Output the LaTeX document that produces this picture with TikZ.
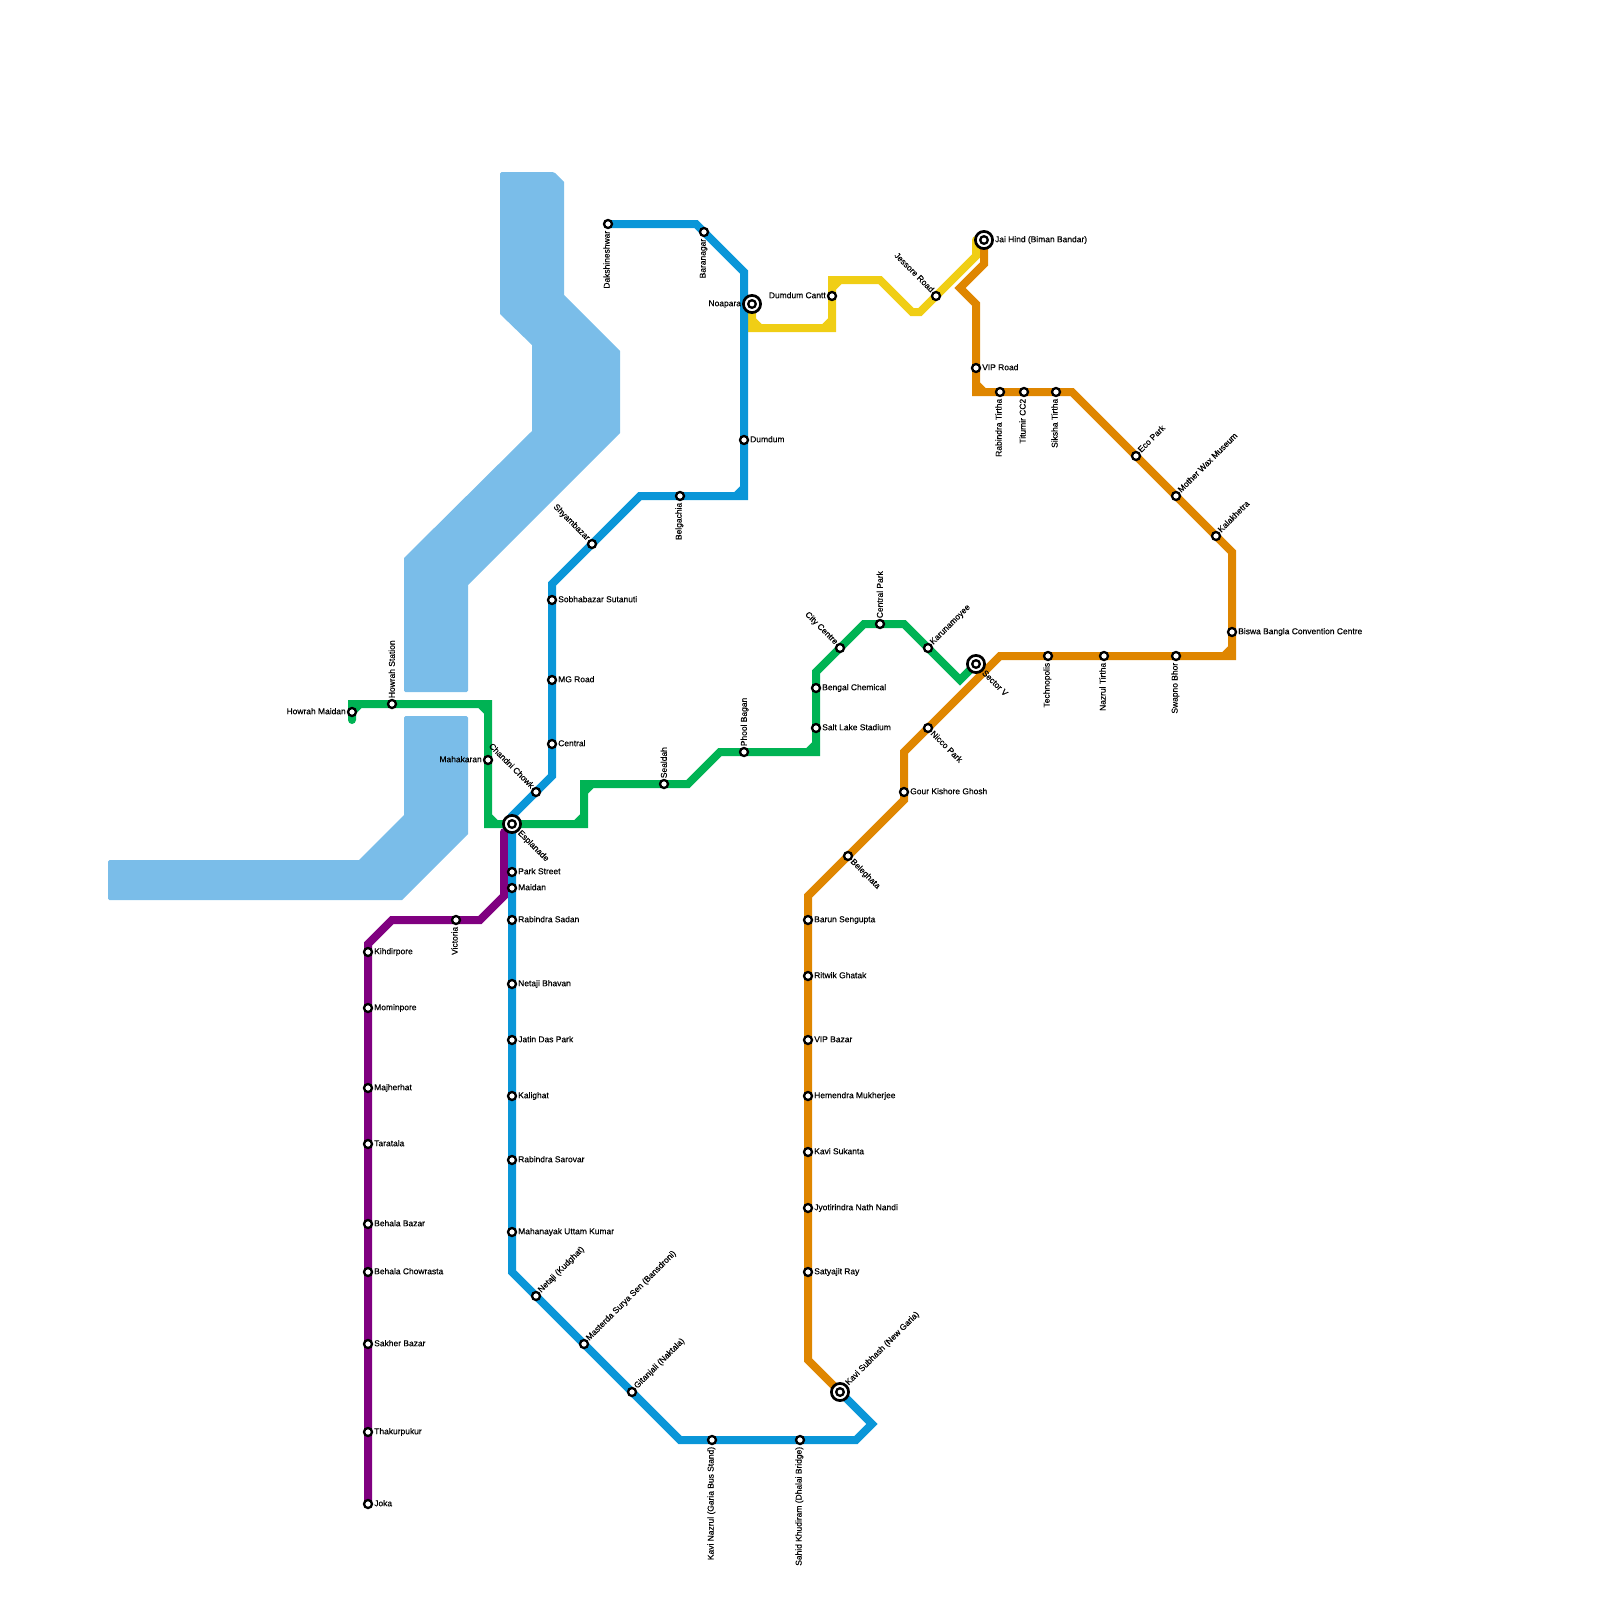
\documentclass[tikz,border=0pt]{standalone}
\usepackage{fontspec}
\newfontfamily\stnfont{Liberation Sans}[FakeBold=0.35]
\definecolor{waterc}{HTML}{7ABDE9}
\definecolor{bluec}{HTML}{0A96D8}
\definecolor{greenc}{HTML}{00B354}
\definecolor{orangec}{HTML}{DF8600}
\definecolor{yellowc}{HTML}{F0CE15}
\definecolor{purplec}{HTML}{800080}
\pgfdeclarelayer{lines}
\pgfsetlayers{lines,main}
\tikzset{
  stn/.style={circle,draw=black,fill=white,line width=2.3pt,inner sep=0pt,minimum size=8pt},
  hub/.style={circle,draw=black,fill=white,line width=2.7pt,inner sep=0pt,minimum size=17.2pt,label distance=2.1pt,
    path picture={\draw[black,line width=2.3pt] (path picture bounding box.center) circle (3.8pt);}},
  hubd/.style={hub,label distance=4.1pt},
  every label/.style={font=\stnfont\fontsize{8.45}{9}\selectfont,inner sep=0pt,text height=6pt,text depth=1.6pt,text=black},
  labup/.style={xshift=1.5pt,yshift=0.5pt,rotate=90,anchor=west},
  labdn/.style={xshift=-1.5pt,yshift=-1.5pt,rotate=90,anchor=east},
  labne/.style={rotate=45,anchor=west},
  labse/.style={rotate=-45,anchor=west},
  labnw/.style={rotate=-45,anchor=east},
  metro/.style={line width=8pt,line cap=round,line join=miter,miter limit=10}
}
\begin{document}
\begin{tikzpicture}[x=1pt,y=-1pt,label distance=0.9pt]
\useasboundingbox (0,0) rectangle (1600,1600);

\node[hubd,label={[labse]-45:Esplanade}] at (512,824) (esplanade) {};
\node[hub,label={left:Noapara}] at (752,304) (noapara) {};
\node[hub,label={right:Jai Hind (Biman Bandar)}] at (984,240) (jaihind) {};
\node[hubd,label={[labse]-45:Sector V}] at (976,664) (sectorv) {};
\node[hubd,label={[labne]45:Kavi Subhash (New Garia)}] at (840,1392) (kavisubhash) {};

\node[stn,label={right:Kihdirpore}] at (368,952) (kihdirpore) {};
\node[stn,label={right:Mominpore}] at (368,1008) (mominpore) {};
\node[stn,label={right:Majherhat}] at (368,1088) (majherhat) {};
\node[stn,label={right:Taratala}] at (368,1144) (taratala) {};
\node[stn,label={right:Behala Bazar}] at (368,1224) (behalabazar) {};
\node[stn,label={right:Behala Chowrasta}] at (368,1272) (behalachow) {};
\node[stn,label={right:Sakher Bazar}] at (368,1344) (sakher) {};
\node[stn,label={right:Thakurpukur}] at (368,1432) (thakurpukur) {};
\node[stn,label={right:Joka}] at (368,1504) (joka) {};
\node[stn,label={[labdn]below:Victoria}] at (456,920) (victoria) {};

\node[stn,label={[labdn]below:Dakshineshwar}] at (608,224) (dakshineshwar) {};
\node[stn,label={[labdn]below:Baranagar}] at (704,232) (baranagar) {};
\node[stn,label={right:Dumdum}] at (744,440) (dumdum) {};
\node[stn,label={[labdn]below:Belgachia}] at (680,496) (belgachia) {};
\node[stn,label={[labnw]135:Shyambazar}] at (592,544) (shyambazar) {};
\node[stn,label={right:Sobhabazar Sutanuti}] at (552,600) (sobhabazar) {};
\node[stn,label={right:MG Road}] at (552,680) (mgroad) {};
\node[stn,label={right:Central}] at (552,744) (central) {};
\node[stn,label={[labnw]135:Chandni Chowk}] at (536,792) (chandni) {};
\node[stn,label={right:Park Street}] at (512,872) (parkstreet) {};
\node[stn,label={right:Maidan}] at (512,888) (maidan) {};
\node[stn,label={right:Rabindra Sadan}] at (512,920) (rabindrasadan) {};
\node[stn,label={right:Netaji Bhavan}] at (512,984) (netajibhavan) {};
\node[stn,label={right:Jatin Das Park}] at (512,1040) (jatindas) {};
\node[stn,label={right:Kalighat}] at (512,1096) (kalighat) {};
\node[stn,label={right:Rabindra Sarovar}] at (512,1160) (sarovar) {};
\node[stn,label={right:Mahanayak Uttam Kumar}] at (512,1232) (mahanayak) {};
\node[stn,label={[labne]45:Netaji (Kudghat)}] at (536,1296) (netaji) {};
\node[stn,label={[labne]45:Masterda Surya Sen (Bansdroni)}] at (584,1344) (masterda) {};
\node[stn,label={[labne]45:Gitanjali (Naktala)}] at (632,1392) (gitanjali) {};
\node[stn,label={[labdn]below:Kavi Nazrul (Garia Bus Stand)}] at (712,1440) (kavinazrul) {};
\node[stn,label={[labdn]below:Sahid Khudiram (Dhalai Bridge)}] at (800,1440) (khudiram) {};

\node[stn,label={left:Howrah Maidan}] at (352,712) (howrahmaidan) {};
\node[stn,label={[labup]above:Howrah Station}] at (392,704) (howrah) {};
\node[stn,label={left:Mahakaran}] at (488,760) (mahakaran) {};
\node[stn,label={[labup]above:Sealdah}] at (664,784) (sealdah) {};
\node[stn,label={[labup]above:Phool Bagan}] at (744,752) (phoolbagan) {};
\node[stn,label={right:Salt Lake Stadium}] at (816,728) (saltlake) {};
\node[stn,label={right:Bengal Chemical}] at (816,688) (bengal) {};
\node[stn,label={[labnw]135:City Centre}] at (840,648) (citycentre) {};
\node[stn,label={[labup]above:Central Park}] at (880,624) (centralpark) {};
\node[stn,label={[labne]45:Karunamoyee}] at (928,648) (karunamoyee) {};

\node[stn,label={left:Dumdum Cantt}] at (832,296) (dumdumcantt) {};
\node[stn,label={[labnw]135:Jessore Road}] at (936,296) (jessore) {};

\node[stn,label={right:Satyajit Ray}] at (808,1272) (satyajit) {};
\node[stn,label={right:Jyotirindra Nath Nandi}] at (808,1208) (jyotirindra) {};
\node[stn,label={right:Kavi Sukanta}] at (808,1152) (sukanta) {};
\node[stn,label={right:Hemendra Mukherjee}] at (808,1096) (hemendra) {};
\node[stn,label={right:VIP Bazar}] at (808,1040) (vipbazar) {};
\node[stn,label={right:Ritwik Ghatak}] at (808,976) (ritwik) {};
\node[stn,label={right:Barun Sengupta}] at (808,920) (barun) {};
\node[stn,label={[labse]-45:Beleghata}] at (848,856) (beleghata) {};
\node[stn,label={right:Gour Kishore Ghosh}] at (904,792) (gour) {};
\node[stn,label={[labse]-45:Nicco Park}] at (928,728) (nicco) {};
\node[stn,label={[labdn]below:Technopolis}] at (1048,656) (technopolis) {};
\node[stn,label={[labdn]below:Nazrul Tirtha}] at (1104,656) (nazrul) {};
\node[stn,label={[labdn]below:Swapno Bhor}] at (1176,656) (swapno) {};
\node[stn,label={right:Biswa Bangla Convention Centre}] at (1232,632) (biswa) {};
\node[stn,label={[labne]45:Kalakhetra}] at (1216,536) (kalakhetra) {};
\node[stn,label={[labne]45:Mother Wax Museum}] at (1176,496) (motherwax) {};
\node[stn,label={[labne]45:Eco Park}] at (1136,456) (ecopark) {};
\node[stn,label={[labdn]below:Siksha Tirtha}] at (1056,392) (siksha) {};
\node[stn,label={[labdn]below:Titumir CC2}] at (1024,392) (titumir) {};
\node[stn,label={[labdn]below:Rabindra Tirtha}] at (1000,392) (rabindra) {};
\node[stn,label={right:VIP Road}] at (976,368) (viproad) {};

\coordinate (p1) at (504,832);
\coordinate (p2) at (504,896);
\coordinate (p3) at (480,920);
\coordinate (p4) at (392,920);
\coordinate (p5) at (368,944);

\coordinate (b1) at (696,224);
\coordinate (b2) at (744,272);
\coordinate (b3) at (744,496);
\coordinate (b4) at (640,496);
\coordinate (b5) at (552,584);
\coordinate (b6) at (552,776);
\coordinate (b7) at (512,816);
\coordinate (b8) at (512,1272);
\coordinate (b9) at (680,1440);
\coordinate (b10) at (856,1440);
\coordinate (b11) at (872,1424);

\coordinate (g1) at (352,720);
\coordinate (g2) at (352,704);
\coordinate (g3) at (488,704);
\coordinate (g4) at (488,824);
\coordinate (g5) at (584,824);
\coordinate (g6) at (584,784);
\coordinate (g7) at (688,784);
\coordinate (g8) at (720,752);
\coordinate (g9) at (816,752);
\coordinate (g10) at (816,672);
\coordinate (g11) at (864,624);
\coordinate (g12) at (904,624);
\coordinate (g13) at (960,680);

\coordinate (y1) at (752,328);
\coordinate (y2) at (832,328);
\coordinate (y3) at (832,280);
\coordinate (y4) at (880,280);
\coordinate (y5) at (912,312);
\coordinate (y6) at (920,312);
\coordinate (y7) at (976,256);
\coordinate (y8) at (976,240);

\coordinate (o1) at (808,1360);
\coordinate (o2) at (808,896);
\coordinate (o3) at (904,800);
\coordinate (o4) at (904,752);
\coordinate (o5) at (1000,656);
\coordinate (o6) at (1232,656);
\coordinate (o7) at (1232,552);
\coordinate (o8) at (1072,392);
\coordinate (o9) at (976,392);
\coordinate (o10) at (976,304);
\coordinate (o11) at (960,288);
\coordinate (o12) at (984,264);

\begin{pgfonlayer}{lines}
\fill[waterc] (500,240) [rounded corners=1.5pt] -- (500,172) -- (554,172) [sharp corners] -- (564,182) -- (564,295) -- (620,351) -- (620,433) -- (468,585) [rounded corners=1.5pt] -- (468,692) -- (404,692) -- (404,640) [sharp corners] -- (404,558) -- (532,431) -- (532,345) -- (500,314) -- cycle;
\fill[waterc] (436,716) [rounded corners=1.5pt] -- (468,716) -- (468,760) [sharp corners] -- (468,834) -- (402,900) [rounded corners=1.5pt] -- (108,900) -- (108,860) -- (200,860) [sharp corners] -- (359,860) -- (404,815) [rounded corners=1.5pt] -- (404,716) -- cycle;

\draw[metro,purplec] (p1) -- (p2) -- (p3) -- (victoria.center) -- (p4) -- (p5) -- (kihdirpore.center) -- (joka.center);

\draw[metro,greenc] (g1) -- (g2) -- (g3) -- (g4) -- (g5) -- (g6) -- (g7) -- (g8) -- (g9) -- (g10) -- (g11) -- (g12) -- (g13) -- (sectorv.center)
  (g2) ++(0,8) -- ++(8,-8)
  (g3) ++(-8,0) -- ++(8,8)
  (g4) ++(0,-8) -- ++(8,8)
  (g5) ++(-8,0) -- ++(8,-8)
  (g6) ++(0,8) -- ++(8,-8)
  (g9) ++(-8,0) -- ++(8,-8);

\draw[metro,yellowc] (noapara.center) -- (y1) -- (y2) -- (y3) -- (y4) -- (y5) -- (y6) -- (y7) -- (y8)
  (y1) ++(0,-8) -- ++(8,8)
  (y2) ++(-8,0) -- ++(8,-8)
  (y3) ++(0,8) -- ++(8,-8);

\draw[metro,orangec] (kavisubhash.center) -- (o1) -- (o2) -- (o3) -- (o4) -- (o5) -- (o6) -- (o7) -- (o8) -- (o9) -- (o10) -- (o11) -- (o12) -- (jaihind.center)
  (o6) ++(-8,0) -- ++(8,-8)
  (o9) ++(0,-8) -- ++(8,8);

\draw[metro,bluec] (dakshineshwar.center) -- (b1) -- (b2) -- (b3) -- (b4) -- (b5) -- (b6) -- (b7) -- (b8) -- (b9) -- (b10) -- (b11) -- (kavisubhash.center)
  (b3) ++(-8,0) -- ++(8,-8);
\end{pgfonlayer}
\end{tikzpicture}
\end{document}
